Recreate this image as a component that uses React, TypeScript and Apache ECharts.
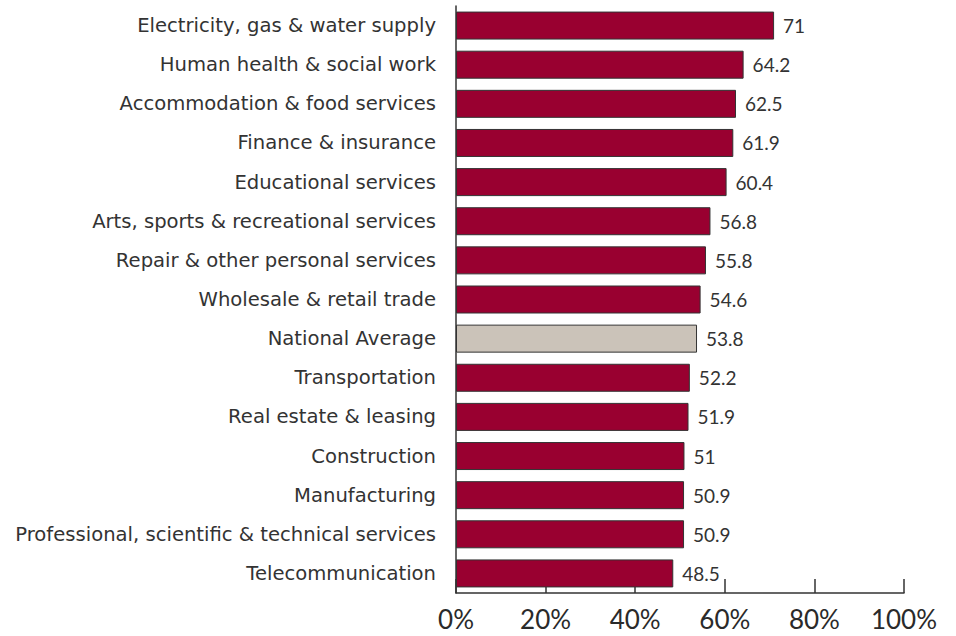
import React, { useEffect, useRef } from "react";
import * as echarts from "echarts";

const categories = [
  "Electricity, gas & water supply",
  "Human health & social work",
  "Accommodation & food services",
  "Finance & insurance",
  "Educational services",
  "Arts, sports & recreational services",
  "Repair & other personal services",
  "Wholesale & retail trade",
  "National Average",
  "Transportation",
  "Real estate & leasing",
  "Construction",
  "Manufacturing",
  "Professional, scientific & technical services",
  "Telecommunication",
];

const values = [71, 64.2, 62.5, 61.9, 60.4, 56.8, 55.8, 54.6, 53.8, 52.2, 51.9, 51, 50.9, 50.9, 48.5];

const highlightCategory = "National Average";

export default function App() {
  const ref = useRef<HTMLDivElement>(null);

  useEffect(() => {
    document.body.style.margin = "0";
    const chart = echarts.init(ref.current!, null, { renderer: "svg" });
    chart.setOption({
      animation: false,
      grid: { left: 456, right: 52, top: 6, bottom: 43, containLabel: false },
      xAxis: {
        type: "value",
        min: 0,
        max: 100,
        interval: 20,
        axisLine: { show: true, lineStyle: { color: "#333", width: 1.5 } },
        axisTick: { show: true, inside: true, length: 14, lineStyle: { color: "#333", width: 1.5 } },
        splitLine: { show: false },
        axisLabel: {
          formatter: "{value}%",
          color: "#2a2a2a",
          fontSize: 26,
          fontFamily: "Lato",
          margin: 13,
        },
      },
      yAxis: {
        type: "category",
        data: categories,
        inverse: true,
        axisLine: { show: true, onZero: false, lineStyle: { color: "#333", width: 1.5 } },
        axisTick: { show: false },
        axisLabel: {
          color: "#333",
          fontSize: 19.6,
          fontFamily: "DejaVu Sans",
          margin: 20,
        },
      },
      series: [
        {
          type: "bar",
          barWidth: 28,
          data: values.map((v, i) => ({
            value: v,
            itemStyle: {
              color: categories[i] === highlightCategory ? "#cbc3b9" : "#990030",
              borderColor: "#333",
              borderWidth: 1,
            },
          })),
          label: {
            show: true,
            position: "right",
            distance: 9,
            color: "#333",
            fontSize: 19,
            fontFamily: "Lato",
          },
        },
      ],
    });
    return () => chart.dispose();
  }, []);

  return <div ref={ref} style={{ width: 956, height: 636 }} />;
}
